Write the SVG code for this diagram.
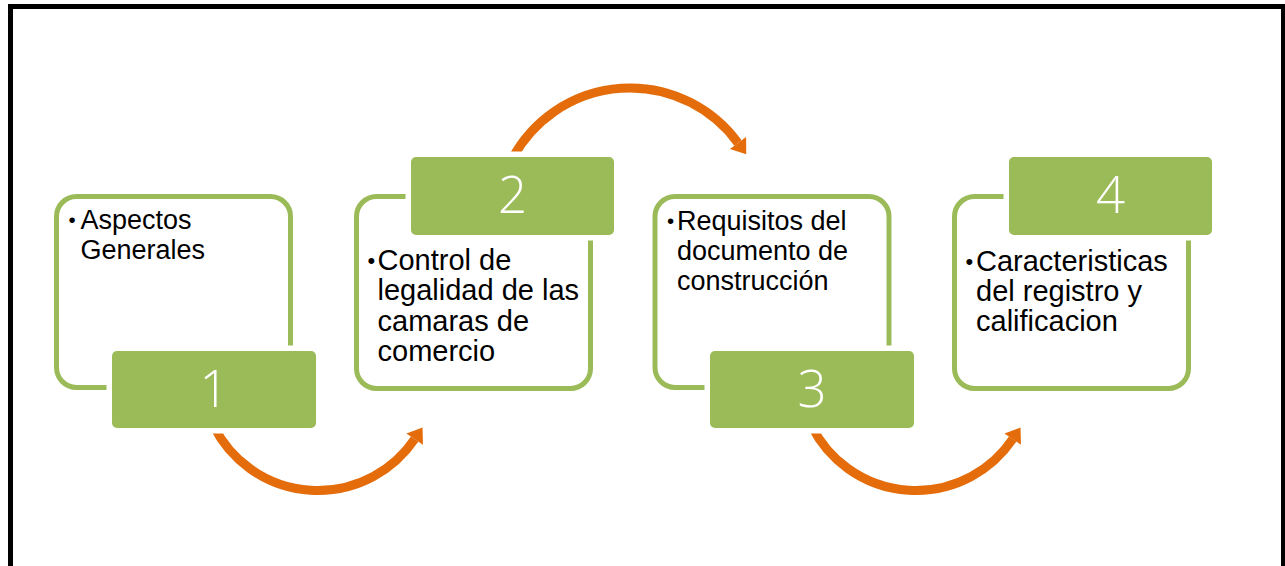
<svg xmlns="http://www.w3.org/2000/svg" width="1285" height="566" viewBox="0 0 1285 566">
  <style>
    .frame { fill: none; stroke: #000000; stroke-width: 5; }
    .outline { fill: #FFFFFF; stroke: #9BBB59; stroke-width: 5; }
    .label { fill: #9BBB59; stroke: #FFFFFF; stroke-width: 11; paint-order: stroke; }
    .num { fill: #FFFFFF; font-family: "Open Sans", "Liberation Sans", Arial, sans-serif; font-weight: 300; font-size: 51px; text-anchor: middle; }
    .txt { fill: #000000; font-family: "Liberation Sans", Arial, sans-serif; }
    .s27 { font-size: 27px; }
    .s29 { font-size: 29px; }
    .b27 { font-size: 20.5px; }
    .b29 { font-size: 22px; }
    .arc { fill: none; stroke: #E46C0A; stroke-width: 9; }
  </style>
  <defs>
    <marker id="head" markerUnits="userSpaceOnUse" viewBox="-1 -11 16 22" markerWidth="16" markerHeight="22" refX="0" refY="0" orient="auto" overflow="visible">
      <path d="M0,-10 L14,0 L0,10 Z" fill="#E46C0A"/>
    </marker>
  </defs>
  <rect width="1285" height="566" fill="#FFFFFF"/>
  <rect class="frame" x="10.5" y="6.5" width="1273" height="600"/>

  <g id="connectors">
    <path class="arc" d="M213.7,426 A116.6,116.6 0 0 0 414.7,439.1" marker-end="url(#head)"/>
    <path class="arc" d="M512.6,158 A133.5,133.5 0 0 1 738,143" marker-end="url(#head)"/>
    <path class="arc" d="M811.7,426 A116.6,116.6 0 0 0 1012.7,439.1" marker-end="url(#head)"/>
  </g>

  <g id="node1">
    <rect class="outline" x="56.5" y="196.5" width="234" height="191" rx="20"/>
    <rect class="label" x="112" y="351" width="204" height="77" rx="5"/>
    <text class="num" x="214" y="407">1</text>
    <text class="txt s27" y="229"><tspan class="b27" x="68.5" dy="-2">•</tspan><tspan x="80.5" dy="2">Aspectos</tspan></text>
    <text class="txt s27" x="80.5" y="258.5">Generales</text>
  </g>

  <g id="node2">
    <rect class="outline" x="356.5" y="196.5" width="234" height="192" rx="20"/>
    <rect class="label" x="411" y="157" width="203" height="78" rx="5"/>
    <text class="num" x="512.5" y="213">2</text>
    <text class="txt s29" y="270"><tspan class="b29" x="367.5" dy="-2">•</tspan><tspan x="377.5" dy="2">Control de</tspan></text>
    <text class="txt s29" x="377.5" y="300.3">legalidad de las</text>
    <text class="txt s29" x="377.5" y="330.6">camaras de</text>
    <text class="txt s29" x="377.5" y="361">comercio</text>
  </g>

  <g id="node3">
    <rect class="outline" x="655" y="196.5" width="234" height="191" rx="20"/>
    <rect class="label" x="710" y="351" width="204" height="77" rx="5"/>
    <text class="num" x="812" y="407">3</text>
    <text class="txt s27" y="229.5"><tspan class="b27" x="667" dy="-2">•</tspan><tspan x="677" dy="2">Requisitos del</tspan></text>
    <text class="txt s27" x="677" y="259.5">documento de</text>
    <text class="txt s27" x="677" y="289.5">construcción</text>
  </g>

  <g id="node4">
    <rect class="outline" x="954.5" y="196.5" width="234" height="192" rx="20"/>
    <rect class="label" x="1009" y="157" width="203" height="78" rx="5"/>
    <text class="num" x="1110.5" y="213">4</text>
    <text class="txt s29" y="270.5"><tspan class="b29" x="965.5" dy="-2">•</tspan><tspan x="976" dy="2">Caracteristicas</tspan></text>
    <text class="txt s29" x="976" y="300.8">del registro y</text>
    <text class="txt s29" x="976" y="331">calificacion</text>
  </g>
</svg>
